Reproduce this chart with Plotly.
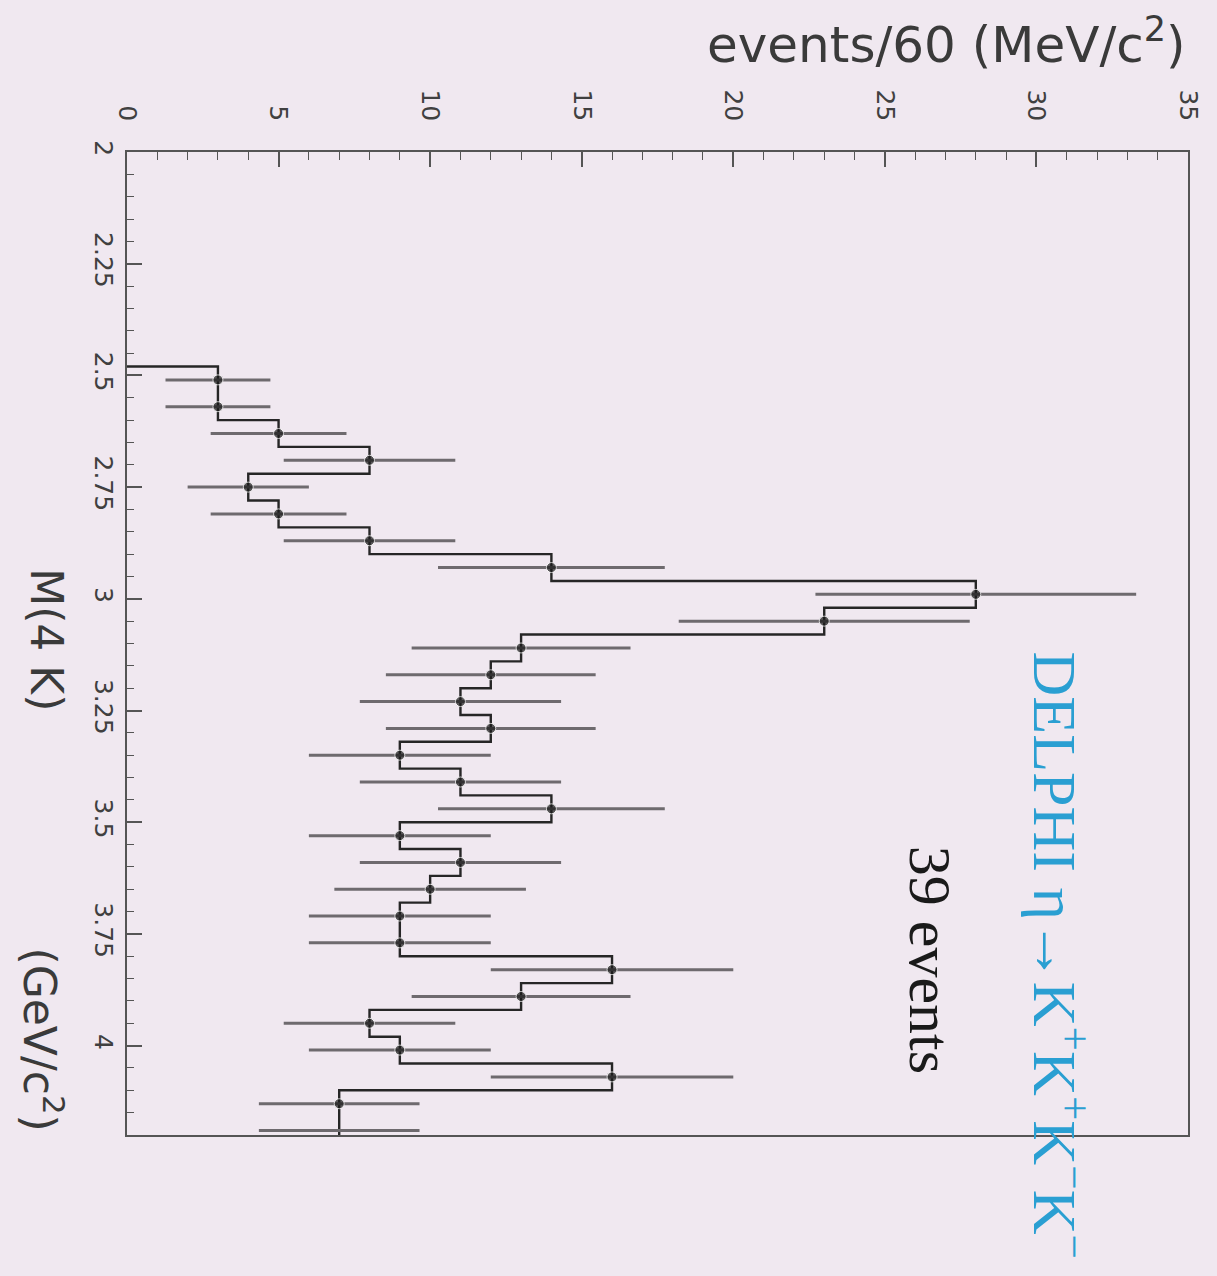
import plotly.graph_objects as go

# ---- data ----
mass_centers = [2.51, 2.57, 2.63, 2.69, 2.75, 2.81, 2.87, 2.93, 2.99, 3.05,
                3.11, 3.17, 3.23, 3.29, 3.35, 3.41, 3.47, 3.53, 3.59, 3.65,
                3.71, 3.77, 3.83, 3.89, 3.95, 4.01, 4.07, 4.13, 4.19]
bin_width = 0.06
counts = [3, 3, 5, 8, 4, 5, 8, 14, 28, 23, 13, 12, 11, 12, 9, 11, 14, 9, 11, 10,
          9, 9, 16, 13, 8, 9, 16, 7, 7]
errors = [1.73, 1.73, 2.24, 2.83, 2.0, 2.24, 2.83, 3.74, 5.29, 4.80, 3.61, 3.46,
          3.32, 3.46, 3.0, 3.32, 3.74, 3.0, 3.32, 3.16, 3.0, 3.0, 4.0, 3.61, 2.83,
          3.0, 4.0, 2.65, 2.65]
events_ticks = [0, 5, 10, 15, 20, 25, 30, 35]
mass_ticks = [2, 2.25, 2.5, 2.75, 3, 3.25, 3.5, 3.75, 4]

# step outline (built from the bins)
edges = [c - bin_width / 2 for c in mass_centers] + [mass_centers[-1] + bin_width / 2]
step_x = [0] + counts
step_y = edges + [edges[-1]]

BG = "#f0e8f0"
INK = "#262626"
sans = "DejaVu Sans"

fig = go.Figure()

fig.add_trace(go.Scatter(
    x=step_x, y=step_y, mode="lines", line_shape="hv",
    line=dict(color=INK, width=2.4), hoverinfo="skip", showlegend=False))

fig.add_trace(go.Scatter(
    x=counts, y=mass_centers, mode="markers",
    marker=dict(color="#1a1a1a", size=[10] * (len(counts) - 1) + [0], symbol="circle"),
    error_x=dict(type="data", array=errors, color="#6e6a6e", thickness=3, width=0),
    showlegend=False))

fig.update_layout(
    width=1217, height=1276,
    margin=dict(l=127, r=29, t=152, b=141),
    paper_bgcolor=BG, plot_bgcolor=BG,
    font=dict(family=sans, color="#3a3a3a"),
)

fig.update_xaxes(
    range=[0, 35], side="top", tickvals=events_ticks, tickangle=90,
    ticks="inside", ticklen=15, tickwidth=1.5, tickcolor="#555",
    minor=dict(dtick=1, ticks="inside", ticklen=8, tickcolor="#555", tickwidth=1),
    showgrid=False, zeroline=False,
    showline=True, linecolor="#555", linewidth=2, mirror=True,
    tickfont=dict(family=sans, size=25, color="#404040"), ticklabelstandoff=20,
)
fig.update_yaxes(
    range=[4.2, 2], tickvals=mass_ticks, tickangle=90,
    ticks="inside", ticklen=15, tickwidth=1.5, tickcolor="#555",
    minor=dict(dtick=0.05, tick0=2, ticks="inside", ticklen=7, tickcolor="#555", tickwidth=1),
    showgrid=False, zeroline=False,
    showline=True, linecolor="#555", linewidth=2, mirror=True,
    tickfont=dict(family=sans, size=25, color="#404040"), ticklabelstandoff=0,
)

fig.add_annotation(text="events/60 (MeV/c<sup>2</sup>)", xref="paper", yref="paper",
                   x=1.0, y=1.112, xanchor="right", yanchor="middle", showarrow=False,
                   font=dict(family=sans, size=50, color="#3a3a3a"))
fig.add_annotation(text="M(4 K)", xref="paper", yref="paper",
                   x=-0.076, y=0.504, textangle=90, xanchor="center", yanchor="middle",
                   showarrow=False,
                   font=dict(family=sans, size=44, color="#3a3a3a"))
fig.add_annotation(text="(GeV/c<sup>2</sup>)", xref="paper", yref="paper",
                   x=-0.079, y=0.097, textangle=90, xanchor="center", yanchor="middle",
                   showarrow=False,
                   font=dict(family=sans, size=44, color="#3a3a3a"))
fig.add_annotation(text="DELPHI η→K<sup>+</sup>K<sup>+</sup>K<sup>−</sup>K<sup>−</sup>",
                   xref="paper", yref="paper", x=0.879, y=0.183, textangle=90,
                   xanchor="center", yanchor="middle", showarrow=False,
                   font=dict(family="Liberation Serif", size=62, color="#2a9fd2"))
fig.add_annotation(text="39 events", xref="paper", yref="paper",
                   x=0.757, y=0.178, textangle=90, xanchor="center", yanchor="middle",
                   showarrow=False,
                   font=dict(family="Liberation Serif", size=60, color="#1a1a1a"))

fig.write_html("out.html")
